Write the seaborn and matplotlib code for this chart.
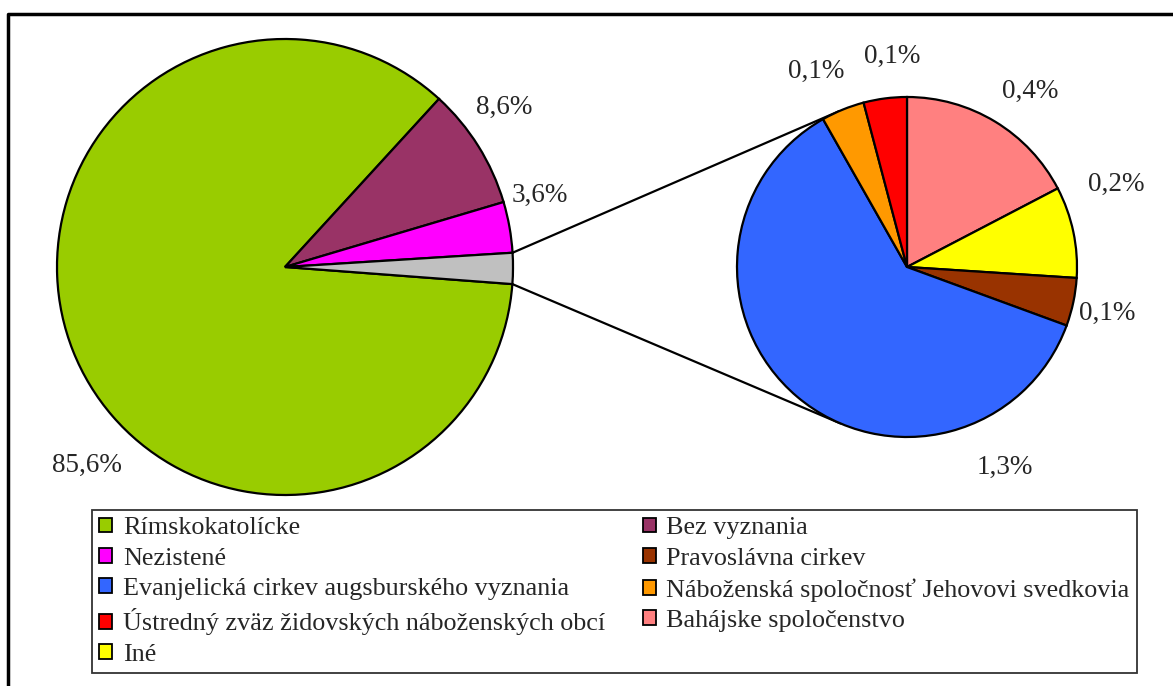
import numpy as np
import seaborn as sns
import matplotlib.pyplot as plt
from matplotlib.patches import Patch

# hlavny kolac (v %)
main_labels = ["Rímskokatolícke", "Bez vyznania", "Nezistené", "Ostatné"]
main_values = [85.6, 8.6, 3.6, 2.19]
main_colors = ["#99CC00", "#993366", "#FF00FF", "#C0C0C0"]

# rozpad "ostatne" (v %)
sub_labels = ["Bahájske spoločenstvo", "Iné", "Pravoslávna cirkev",
              "Evanjelická cirkev augsburského vyznania",
              "Náboženská spoločnosť Jehovovi svedkovia",
              "Ústredný zväz židovských náboženských obcí"]
sub_values = [0.38, 0.19, 0.10, 1.34, 0.09, 0.09]
sub_colors = ["#FF8080", "#FFFF00", "#993300", "#3366FF", "#FF9900", "#FF0000"]

# poloha popiskov: (uhol, nasobok polomeru)
main_lab_pos = [(-135, 1.23), (36, 1.19), (15.8, 1.16), None]
sub_lab_pos = [(55, 1.26), (21.5, 1.32), (-12.9, 1.21), (-64, 1.31), (115, 1.27), (94, 1.24)]

legend_order = ["Rímskokatolícke", "Nezistené", "Evanjelická cirkev augsburského vyznania",
                "Ústredný zväz židovských náboženských obcí", "Iné",
                "Bez vyznania", "Pravoslávna cirkev", "Náboženská spoločnosť Jehovovi svedkovia",
                "Bahájske spoločenstvo"]

W, H = 1173, 686
sns.set_theme(style="white")
plt.rcParams['font.family'] = ['Liberation Serif', 'DejaVu Serif']

fig = plt.figure(figsize=(W / 100, H / 100), dpi=100)
ax = fig.add_axes([0, 0, 1, 1])

c1, r1 = (285, 419), 228
c2, r2 = (907, 419), 170
ep = dict(edgecolor='black', linewidth=1.6)

w1, _ = ax.pie(main_values, colors=main_colors, center=c1, radius=r1,
               startangle=-4.3, counterclock=False, wedgeprops=ep, frame=True)
w2, _ = ax.pie(sub_values, colors=sub_colors, center=c2, radius=r2,
               startangle=90, counterclock=False, wedgeprops=ep, frame=True)
ax.set_xlim(0, W)
ax.set_ylim(0, H)
ax.set_aspect('equal')
ax.axis('off')


def fmt(v):
    return ("%.1f%%" % v).replace(".", ",")


for v, pos in zip(main_values, main_lab_pos):
    if pos is None:
        continue
    a = np.radians(pos[0])
    ax.text(c1[0] + pos[1] * r1 * np.cos(a), c1[1] + pos[1] * r1 * np.sin(a), fmt(v),
            ha='center', va='center', fontsize=19.5)
for v, pos in zip(sub_values, sub_lab_pos):
    a = np.radians(pos[0])
    ax.text(c2[0] + pos[1] * r2 * np.cos(a), c2[1] + pos[1] * r2 * np.sin(a), fmt(v),
            ha='center', va='center', fontsize=19.5)

# spojovacie ciary - dotycnice ku pravemu kolacu
g = w1[3]
for th, sgn in [(g.theta2, 1), (g.theta1, -1)]:
    a = np.radians(th)
    px, py = c1[0] + r1 * np.cos(a), c1[1] + r1 * np.sin(a)
    dx, dy = px - c2[0], py - c2[1]
    dist = np.hypot(dx, dy)
    base = np.arctan2(dy, dx)
    t = base - sgn * np.arccos(r2 / dist)
    qx, qy = c2[0] + r2 * np.cos(t), c2[1] + r2 * np.sin(t)
    ax.plot([px, qx], [py, qy], color='black', linewidth=1.6, zorder=0)

# ramik grafu
ax.plot([8, 8, W + 5], [-5, H - 14, H - 14], color='black', linewidth=2.5, clip_on=False)

cmap = dict(zip(main_labels + sub_labels, main_colors + sub_colors))
handles = [Patch(facecolor=cmap[l], edgecolor='black', linewidth=1.3, label=l) for l in legend_order]
leg = ax.legend(handles=handles, ncol=2, loc='upper left',
                bbox_to_anchor=(92 / W, 176 / H, 1045 / W, 0), mode='expand',
                borderaxespad=0, fontsize=18.8, frameon=True, fancybox=False,
                edgecolor='black', handlelength=0.5, handleheight=0.5,
                handletextpad=0.4, labelspacing=0.32, borderpad=0.28, columnspacing=0.4)
leg.get_frame().set_linewidth(1.3)

fig.savefig("out.png", dpi=100)
